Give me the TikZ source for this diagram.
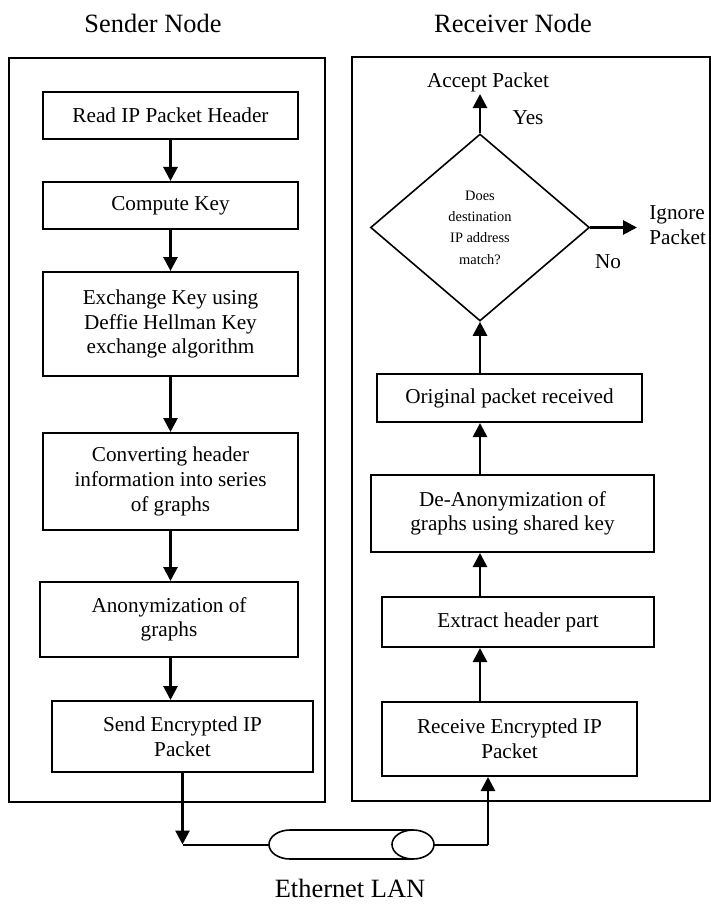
\documentclass[tikz,border=0pt]{standalone}
\usepackage{fontspec}
\setmainfont{Liberation Serif}
\usetikzlibrary{shapes.geometric,arrows.meta}
\newcommand{\txtbody}{\fontsize{10.6}{12.3}\selectfont}
\newcommand{\txttitle}{\fontsize{13.2}{15}\selectfont}
\newcommand{\txtdia}{\fontsize{7.2}{10.7}\selectfont}
\begin{document}
\begin{tikzpicture}[x=0.5pt,y=-0.5pt,
  box/.style={draw,line width=1pt,align=center,inner sep=0pt,font=\txtbody},
  arr/.style={line width=1.4pt,-{Triangle[length=7pt,width=7pt]}},
  frame/.style={line width=1pt},
  link/.style={line width=1pt},
  lbl/.style={font=\txtbody,inner sep=1pt},
  title/.style={font=\txttitle,inner sep=1pt}]
\useasboundingbox (0,0) rectangle (711,909);

% titles
\node[title] (sn) at (153,23) {Sender Node};
\node[title] (rn) at (513,23) {Receiver Node};
\node[title] (eth) at (350,888) {Ethernet LAN};

% panels
\draw[frame] (9,58) rectangle (325,802);
\draw[frame] (352,57) rectangle (710,801);

% sender side
\node[box,minimum width=127.5pt,minimum height=23.5pt] (read) at (170.5,115.5) {Read IP Packet Header};
\node[box,minimum width=127.5pt,minimum height=23.5pt] (comp) at (170.5,205.5) {Compute Key};
\node[box,minimum width=127.5pt,minimum height=52pt] (exch) at (170.5,324) {Exchange Key using\\Deffie Hellman Key\\exchange algorithm};
\node[box,minimum width=127.5pt,minimum height=48.5pt] (conv) at (170.5,481.5) {Converting header\\information into series\\of graphs};
\node[box,minimum width=129pt,minimum height=37.5pt] (anon) at (169,619.5) {Anonymization of\\graphs};
\node[box,minimum width=130.5pt,minimum height=35.5pt] (send) at (182.5,736.5) {Send Encrypted IP\\Packet};

\draw[arr] (read.south) -- (read.south |- comp.north);
\draw[arr] (comp.south) -- (comp.south |- exch.north);
\draw[arr] (exch.south) -- (exch.south |- conv.north);
\draw[arr] (conv.south) -- (conv.south |- anon.north);
\draw[arr] (conv.south |- anon.south) -- (conv.south |- send.north);

% receiver side
\node[box,minimum width=127.5pt,minimum height=37pt] (recv) at (509.5,739) {Receive Encrypted IP\\Packet};
\node[box,minimum width=136pt,minimum height=25pt] (extr) at (518,622) {Extract header part};
\node[box,minimum width=141.5pt,minimum height=38.5pt] (dean) at (512.5,513.5) {De-Anonymization of\\graphs using shared key};
\node[box,minimum width=132.5pt,minimum height=24pt] (orig) at (509.5,398) {Original packet received};
\node[draw,diamond,line width=0.8pt,minimum width=109.5pt,minimum height=93.5pt,inner sep=0pt,align=center,font=\txtdia] (dia) at (480,227.5) {Does\\destination\\IP address\\match?};

\node[lbl] (acc) at (488,82) {Accept Packet};
\node[lbl] (yes) at (528,118) {Yes};
\node[lbl] (no) at (608,262) {No};
\node[font=\txtbody,align=left,anchor=west,inner sep=0pt] (ign) at (649,225) {Ignore\\Packet};

\draw[arr] (recv.north -| dia.south) -- (extr.south -| dia.south);
\draw[arr] (extr.north -| dia.south) -- (dean.south -| dia.south);
\draw[arr] (dean.north -| dia.south) -- (orig.south -| dia.south);
\draw[arr] (orig.north -| dia.south) -- (dia.south);
\draw[arr] (dia.north) -- (dia.north |- acc.south);
\draw[arr,shorten >=6pt] (dia.east) -- (dia.east -| ign.west);

% LAN cylinder
\coordinate (lanw) at (269,844.5);
\coordinate (lane) at (434,844.5);
\draw[line width=0.8pt] (413,830) -- (290,830)
  arc[start angle=270,end angle=90,x radius=21,y radius=14.5]
  -- (413,859);
\draw[line width=0.8pt] (413,844.5) ellipse [x radius=21,y radius=14.5];

\coordinate (lc) at (182.5,844.5);
\coordinate (rc) at (488,844.5);
\draw[arr] (send.south) -- (lc);
\draw[link] (lc) -- (lanw);
\draw[link] (lane) -- (rc);
\draw[arr] (rc) -- (rc |- recv.south);
\end{tikzpicture}
\end{document}
